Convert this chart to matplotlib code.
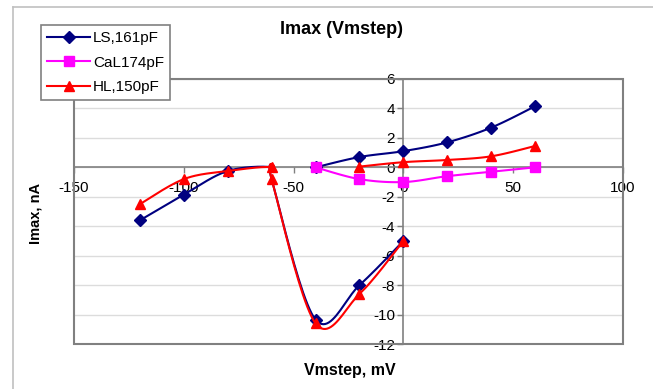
import numpy as np
import matplotlib
matplotlib.use('Agg')
import matplotlib.pyplot as plt
from matplotlib.lines import Line2D
from matplotlib.patches import Rectangle

plt.rcParams['font.family'] = ['Liberation Sans', 'DejaVu Sans']
plt.rcParams['axes.unicode_minus'] = False

# Imax vs Vmstep, two branches per cell (inward peak and outward part)
vm_neg = [-120, -100, -80, -60, -60, -40, -20, 0]
vm_pos = [-40, -20, 0, 20, 40, 60]
ls_neg = [-3.6, -1.85, -0.25, 0.0, -0.8, -10.35, -8.0, -5.0]
ls_pos = [0.0, 0.7, 1.1, 1.7, 2.7, 4.15]
cal_pos = [0.0, -0.8, -1.0, -0.6, -0.3, 0.0]
hl_neg = [-2.5, -0.8, -0.25, 0.0, -0.8, -10.6, -8.6, -5.0]
hl_pos_vm = [-20, 0, 20, 40, 60]
hl_pos = [0.05, 0.35, 0.5, 0.75, 1.45]

labels = ['LS,161pF', 'CaL174pF', 'HL,150pF']
colors = ['#000080', '#ff00ff', '#ff0000']
markers = ['D', 's', '^']
msizes = [6, 6.5, 7.5]

x_ticks = [-150, -100, -50, 0, 50, 100]
y_ticks = list(range(-12, 7, 2))
GREY = '#808080'


def smooth(xs, ys, n=24):
    # bezier smoothing through the points, like a spreadsheet "smoothed line"
    pts = np.column_stack([xs, ys]).astype(float)
    out = [pts[0]]
    t = np.linspace(0, 1, n)[1:, None]
    for i in range(len(pts) - 1):
        p0 = pts[max(i - 1, 0)]
        p1 = pts[i]
        p2 = pts[i + 1]
        p3 = pts[min(i + 2, len(pts) - 1)]
        c1 = p1 + (p2 - p0) / 6
        c2 = p2 - (p3 - p1) / 6
        seg = (1 - t)**3 * p1 + 3 * (1 - t)**2 * t * c1 + 3 * (1 - t) * t**2 * c2 + t**3 * p2
        out.extend(seg)
    return np.array(out)


fig = plt.figure(figsize=(6.53, 3.89), dpi=100)
ax = fig.add_axes([74 / 653, 1 - 344 / 389, 549 / 653, 265 / 389])

# the LS points at -60 sit under the HL triangles, so no diamonds there
ls_marks = [i for i in range(len(vm_neg)) if vm_neg[i] != -60]
series = [
    (0, [(vm_neg, ls_neg, ls_marks), (vm_pos, ls_pos, None)]),
    (1, [(vm_pos, cal_pos, None)]),
    (2, [(vm_neg, hl_neg, None), (hl_pos_vm, hl_pos, None)]),
]
for k, branches in series:
    for xs, ys, every in branches:
        c = smooth(xs, ys)
        ax.plot(c[:, 0], c[:, 1], color=colors[k], lw=1.5, zorder=3 + k)
        ax.plot(xs, ys, ls='none', marker=markers[k], ms=msizes[k], markevery=every,
                color=colors[k], zorder=3 + k)

ax.set_xlim(-150, 100)
ax.set_ylim(-12, 6)
ax.set_xticks(x_ticks)
ax.set_yticks(y_ticks)
for y in y_ticks:
    ax.axhline(y, color='#dcdcdc', lw=1, zorder=1)

for s in ['top', 'right']:
    ax.spines[s].set_visible(False)
ax.spines['bottom'].set_position(('data', 0))
ax.spines['left'].set_position(('data', 0))
for s in ['bottom', 'left']:
    ax.spines[s].set_color(GREY)
    ax.spines[s].set_linewidth(1.2)
    ax.spines[s].set_zorder(2)
ax.add_patch(Rectangle((0, 0), 1, 1, transform=ax.transAxes, fill=False,
                       edgecolor=GREY, lw=1.5, zorder=2, clip_on=False))
ax.tick_params(axis='x', direction='out', length=4, width=1, color=GREY,
               labelsize=11, pad=6)
ax.tick_params(axis='y', direction='out', length=4, width=1, color=GREY,
               labelsize=11, pad=2)

fig.text(341 / 653, 1 - 30 / 389, 'Imax (Vmstep)', fontsize=13, fontweight='bold',
         ha='center', va='center')
fig.text(36 / 653, 1 - 213 / 389, 'Imax, nA', fontsize=10.5, fontweight='bold',
         rotation=90, ha='center', va='center')
fig.text(350 / 653, 1 - 371 / 389, 'Vmstep, mV', fontsize=11.5, fontweight='bold',
         ha='center', va='center')

handles = [Line2D([], [], color=colors[k], marker=markers[k], ms=msizes[k], lw=1.5)
           for k in range(3)]
leg = ax.legend(handles, labels, loc='upper left', bbox_to_anchor=(41 / 653, 1 - 25 / 389),
                bbox_transform=fig.transFigure, fontsize=11, frameon=True, fancybox=False,
                edgecolor=GREY, framealpha=1, handlelength=2.8, handletextpad=0.2,
                labelspacing=0.68, borderpad=0.4, borderaxespad=0, numpoints=1)
leg.get_frame().set_linewidth(1.2)
leg.set_zorder(10)

# outer chart border
fig.add_artist(Line2D([13 / 653, 1], [1 - 7 / 389, 1 - 7 / 389], color='#c0c0c0', lw=1.2,
                      transform=fig.transFigure))
fig.add_artist(Line2D([13 / 653, 13 / 653], [0, 1 - 7 / 389], color='#c0c0c0', lw=1.2,
                      transform=fig.transFigure))

fig.savefig('out.png', dpi=100, facecolor='white')
